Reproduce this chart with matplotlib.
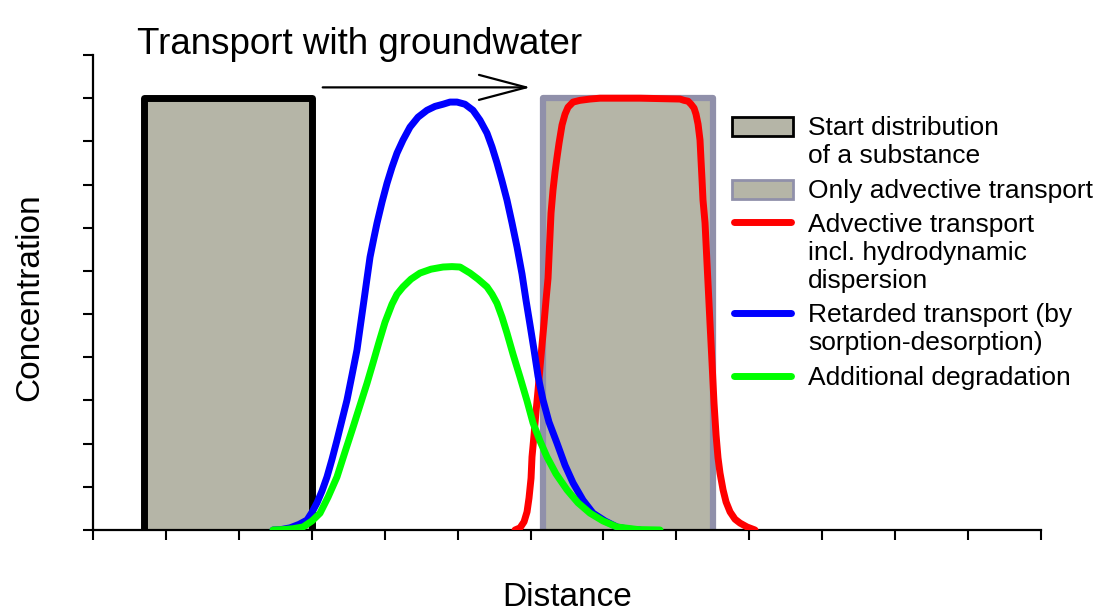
import matplotlib
matplotlib.use("Agg")
import matplotlib.pyplot as plt
from matplotlib.patches import Rectangle
from matplotlib.lines import Line2D

plt.rcParams['font.family'] = ['Liberation Sans', 'DejaVu Sans']

# ---- data (distance in x-tick units, concentration 0..1) ----
start_x = [0.70, 0.70, 3.00, 3.00]
start_y = [0.0, 1.0, 1.0, 0.0]

advect_x = [6.17, 6.17, 8.50, 8.50]
advect_y = [0.0, 1.0, 1.0, 0.0]

disp_x = [5.787, 5.856, 5.911, 5.952, 5.979, 6.007, 6.020, 6.048, 6.075, 6.103,
          6.130, 6.157, 6.185, 6.212, 6.240, 6.253, 6.267, 6.281, 6.308, 6.336,
          6.363, 6.391, 6.432, 6.473, 6.514, 6.583, 6.679, 6.816, 6.953, 7.501,
          8.050, 8.105, 8.160, 8.201, 8.242, 8.269, 8.297, 8.324, 8.338, 8.352,
          8.365, 8.393, 8.420, 8.461, 8.489, 8.516, 8.544, 8.571, 8.598, 8.640,
          8.681, 8.736, 8.804, 8.873, 8.969, 9.078]
disp_y = [0.000, 0.005, 0.019, 0.042, 0.074, 0.120, 0.169, 0.220, 0.273, 0.324,
          0.377, 0.428, 0.479, 0.532, 0.583, 0.632, 0.683, 0.734, 0.787, 0.829,
          0.863, 0.896, 0.938, 0.963, 0.979, 0.991, 0.995, 0.998, 1.000, 1.000,
          0.998, 0.995, 0.993, 0.986, 0.977, 0.963, 0.940, 0.903, 0.856, 0.810,
          0.764, 0.711, 0.618, 0.479, 0.387, 0.294, 0.220, 0.167, 0.132, 0.093,
          0.065, 0.042, 0.025, 0.016, 0.007, 0.000]

retard_x = [2.468, 2.578, 2.702, 2.825, 2.935, 3.003, 3.072, 3.140, 3.209, 3.278,
            3.346, 3.415, 3.483, 3.552, 3.620, 3.668, 3.716, 3.758, 3.799, 3.854,
            3.895, 3.963, 4.032, 4.100, 4.169, 4.251, 4.347, 4.457, 4.580, 4.690,
            4.800, 4.896, 4.992, 5.101, 5.211, 5.307, 5.403, 5.472, 5.540, 5.609,
            5.677, 5.746, 5.815, 5.883, 5.938, 5.993, 6.048, 6.103, 6.171, 6.253,
            6.363, 6.473, 6.583, 6.720, 6.857, 7.021, 7.186, 7.337, 7.501]
retard_y = [0.000, 0.001, 0.005, 0.013, 0.023, 0.041, 0.063, 0.090, 0.123, 0.164,
            0.208, 0.255, 0.301, 0.359, 0.417, 0.475, 0.532, 0.583, 0.632, 0.678,
            0.711, 0.759, 0.803, 0.840, 0.873, 0.903, 0.933, 0.956, 0.972, 0.981,
            0.986, 0.991, 0.991, 0.986, 0.972, 0.949, 0.919, 0.887, 0.850, 0.808,
            0.764, 0.711, 0.655, 0.593, 0.532, 0.475, 0.417, 0.356, 0.301, 0.250,
            0.201, 0.150, 0.109, 0.069, 0.039, 0.021, 0.007, 0.002, 0.000]

degr_x = [2.468, 2.606, 2.743, 2.880, 3.003, 3.113, 3.223, 3.346, 3.456, 3.566,
          3.662, 3.758, 3.840, 3.922, 4.004, 4.100, 4.169, 4.251, 4.361, 4.484,
          4.635, 4.800, 4.923, 5.033, 5.170, 5.280, 5.403, 5.472, 5.540, 5.609,
          5.677, 5.760, 5.856, 5.952, 6.034, 6.130, 6.226, 6.349, 6.500, 6.651,
          6.816, 6.994, 7.186, 7.474, 7.776]
degr_y = [0.000, 0.001, 0.003, 0.007, 0.021, 0.039, 0.076, 0.123, 0.181, 0.238,
          0.289, 0.340, 0.387, 0.435, 0.481, 0.523, 0.546, 0.563, 0.581, 0.595,
          0.604, 0.609, 0.610, 0.609, 0.595, 0.581, 0.563, 0.546, 0.525, 0.493,
          0.456, 0.407, 0.354, 0.299, 0.248, 0.206, 0.169, 0.130, 0.093, 0.063,
          0.039, 0.021, 0.007, 0.001, 0.000]

labels = ["Start distribution\nof a substance",
          "Only advective transport",
          "Advective transport\nincl. hydrodynamic\ndispersion",
          "Retarded transport (by\nsorption-desorption)",
          "Additional degradation"]

fill_c = '#B5B5A7'
gray_edge = '#9090AA'
red, blue, green = '#FF0000', '#0000FF', '#00FF00'

W, H = 1114, 611
fig = plt.figure(figsize=(W / 100, H / 100), dpi=100)
ax = fig.add_axes([93 / W, 1 - 530 / H, (1041 - 93) / W, (530 - 55) / H])

ax.fill_between(advect_x, advect_y, color=fill_c, lw=0, zorder=1)
ax.plot(advect_x, advect_y, color=gray_edge, lw=4.5, solid_capstyle='round',
        solid_joinstyle='round', zorder=2)
ax.fill_between(start_x, start_y, color=fill_c, lw=0, zorder=1)
ax.plot(start_x, start_y, color='black', lw=5, solid_capstyle='round',
        solid_joinstyle='round', zorder=2)
ax.plot(disp_x, disp_y, color=red, lw=5, solid_capstyle='round',
        solid_joinstyle='round', zorder=3)
ax.plot(retard_x, retard_y, color=blue, lw=5, solid_capstyle='round',
        solid_joinstyle='round', zorder=4)
ax.plot(degr_x, degr_y, color=green, lw=5, solid_capstyle='round',
        solid_joinstyle='round', zorder=5)

ax.set_xlim(0, 13)
ax.set_ylim(0, 1.1)
ax.set_xticks(range(0, 14))
ax.set_yticks([i / 10 for i in range(12)])
ax.tick_params(labelbottom=False, labelleft=False, direction='out', length=7, width=1.5)
for s in ['top', 'right']:
    ax.spines[s].set_visible(False)
for s in ['left', 'bottom']:
    ax.spines[s].set_linewidth(1.6)

# arrow
ax.annotate('', xy=(6.00, 1.025), xytext=(3.15, 1.025),
            arrowprops=dict(arrowstyle='->,head_length=1.7,head_width=0.45',
                            mutation_scale=20, lw=1.6, color='black',
                            shrinkA=0, shrinkB=0),
            annotation_clip=False)

fig.text(137 / W, 1 - 45 / H, 'Transport with groundwater', fontsize=26.5,
         ha='left', va='center')
fig.text(30 / W, 1 - 297 / H, 'Concentration', fontsize=24, rotation=90,
         ha='center', va='center')
fig.text(567 / W, 1 - 597 / H, 'Distance', fontsize=24, ha='center', va='center')

# ---- legend (handles aligned with first text line) ----
handle_y = [126, 189, 222, 313, 376]        # pixel rows of handle centres
last_base = [163, 198, 288, 350, 385]       # pixel rows of each label's last baseline
kinds = [('patch', 'black'), ('patch', gray_edge), ('line', red),
         ('line', blue), ('line', green)]
for lab, cy, base, (kind, col) in zip(labels, handle_y, last_base, kinds):
    if kind == 'patch':
        fig.add_artist(Rectangle((732 / W, 1 - (cy + 9.5) / H), 61 / W, 19 / H,
                                 transform=fig.transFigure, facecolor=fill_c,
                                 edgecolor=col, lw=2))
    else:
        fig.add_artist(Line2D([734 / W, 791 / W], [1 - cy / H, 1 - cy / H],
                              transform=fig.transFigure, color=col, lw=5,
                              solid_capstyle='round'))
    fig.text(808 / W, 1 - base / H, lab, fontsize=19, ha='left', va='baseline',
             linespacing=1.2)

fig.savefig('out.png', dpi=100)
